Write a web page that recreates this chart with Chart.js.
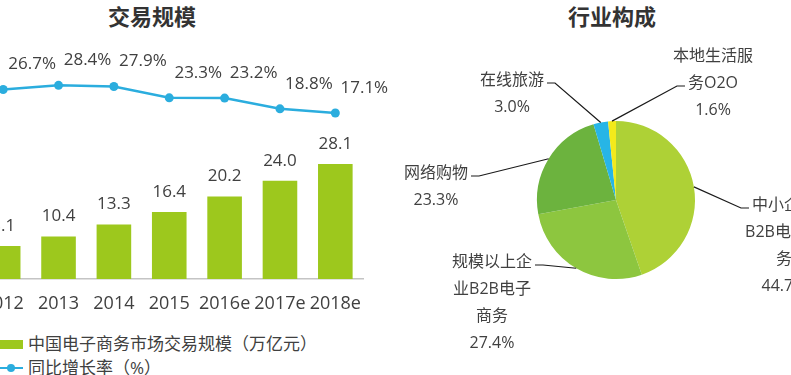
<!DOCTYPE html>
<html>
<head>
<meta charset="utf-8">
<script src="https://cdn.jsdelivr.net/npm/chart.js@4/dist/chart.umd.min.js"></script>
<style>
html,body{margin:0;padding:0;background:#fff;width:791px;height:375px;overflow:hidden;position:relative;font-family:"Open Sans","Noto Sans CJK SC",sans-serif;color:#404040;}
#leftWrap{position:absolute;left:-29px;top:0;width:430px;height:320px;}
#rightWrap{position:absolute;left:400px;top:0;width:391px;height:375px;}
.title{position:absolute;top:0;font-family:"Noto Sans CJK SC",sans-serif;font-size:22px;font-weight:bold;color:#333;line-height:30px;transform:translateX(-50%);white-space:nowrap;}
.leg{position:absolute;left:0;height:24px;white-space:nowrap;font-size:17px;line-height:24px;color:#404040;}
.leg .txt{position:absolute;left:28px;top:0;}
.box{position:absolute;left:0;top:8px;width:23px;height:9px;background:#9dc81d;}
.ln{position:absolute;left:0;top:11px;width:23px;height:2px;background:#2badde;}
.dot{position:absolute;left:7px;top:8px;width:8px;height:8px;border-radius:50%;background:#2badde;}
</style>
</head>
<body>
<div class="title" style="left:152px;">交易规模</div>
<div class="title" style="left:612px;">行业构成</div>
<div id="leftWrap"><canvas id="leftChart" width="430" height="320"></canvas></div>
<div id="rightWrap"><canvas id="rightChart" width="391" height="375"></canvas></div>
<div class="leg" style="top:332px;"><div class="box"></div><span class="txt" id="legBar"></span></div>
<div class="leg" style="top:356px;"><div class="ln"></div><div class="dot"></div><span class="txt" id="legLine"></span></div>
<script>
// ---- data ----
const years = ['2012', '2013', '2014', '2015', '2016e', '2017e', '2018e'];
const marketSize = [8.1, 10.4, 13.3, 16.4, 20.2, 24.0, 28.1];
const growthRate = [26.7, 28.4, 27.9, 23.3, 23.2, 18.8, 17.1];
const seriesNames = ['中国电子商务市场交易规模（万亿元）', '同比增长率（%）'];

const segmentNames = ['中小企业B2B电子商务', '规模以上企业B2B电子商务', '网络购物', '在线旅游', '本地生活服务O2O'];
const segmentShares = [44.7, 27.4, 23.3, 3.0, 1.6];
const segmentLabelLines = [['中小企业', 'B2B电子商', '务'], ['规模以上企', '业B2B电子', '商务'], ['网络购物'], ['在线旅游'], ['本地生活服', '务O2O']];

// ---- styles / layout ----
const FONT = '"Open Sans","Noto Sans CJK SC",sans-serif';
const TEXT = '#404040';
const BAR_COLOR = '#9dc81d';
const LINE_COLOR = '#2badde';
const PIE_COLORS = ['#aed136', '#8dc63f', '#6cb33e', '#27b5e6', '#f3ea1b'];
const pieLabelLayout = [
  {x: 384, y: 205, attach: 0, side: 'left'},
  {x: 92, y: 262, attach: 0, side: 'right'},
  {x: 36, y: 173, attach: 0, side: 'right'},
  {x: 112, y: 80, attach: 0, side: 'right'},
  {x: 313, y: 56, attach: 1, side: 'left'}
];
const PIE_LINE_STEP = 27;

document.getElementById('legBar').textContent = seriesNames[0];
document.getElementById('legLine').textContent = seriesNames[1];

const valueLabels = {
  id: 'valueLabels',
  afterDatasetsDraw(chart) {
    const ctx = chart.ctx;
    ctx.save();
    ctx.font = '17px ' + FONT;
    ctx.fillStyle = TEXT;
    ctx.textAlign = 'center';
    ctx.textBaseline = 'middle';
    chart.getDatasetMeta(0).data.forEach((bar, i) => {
      ctx.fillText(marketSize[i].toFixed(1), bar.x, bar.y - 20);
    });
    chart.getDatasetMeta(1).data.forEach((pt, i) => {
      ctx.fillText(growthRate[i].toFixed(1) + '%', pt.x + 29, pt.y - 25);
    });
    ctx.restore();
  }
};

new Chart(document.getElementById('leftChart'), {
  data: {
    labels: years,
    datasets: [
      {type: 'bar', label: seriesNames[0], data: marketSize, backgroundColor: BAR_COLOR, yAxisID: 'y',
       categoryPercentage: 1, barPercentage: 0.625, order: 2},
      {type: 'line', label: seriesNames[1], data: growthRate, borderColor: LINE_COLOR, borderWidth: 2.5,
       pointRadius: 4.5, pointBackgroundColor: LINE_COLOR, pointBorderWidth: 0, yAxisID: 'y1', order: 1, tension: 0}
    ]
  },
  options: {
    responsive: false,
    animation: false,
    layout: {padding: {top: 30, left: 0, right: 38, bottom: 0}},
    plugins: {legend: {display: false}, tooltip: {enabled: false}},
    scales: {
      x: {
        offset: true,
        grid: {display: false, drawTicks: false},
        border: {display: true, color: '#c4c4c4', width: 1.5},
        ticks: {color: TEXT, font: {size: 18, family: FONT}, padding: 14, maxRotation: 0, autoSkip: false},
        afterFit(s) { s.height = 41; s.paddingLeft = 0; s.paddingRight = 0; }
      },
      y: {display: false, min: 0, max: 60.9},
      y1: {display: false, min: -50.65, max: 50.98}
    }
  },
  plugins: [valueLabels]
});

const pieLabels = {
  id: 'pieLabels',
  afterDatasetsDraw(chart) {
    const ctx = chart.ctx;
    ctx.save();
    ctx.font = '16px ' + FONT;
    ctx.textAlign = 'center';
    ctx.textBaseline = 'middle';
    chart.getDatasetMeta(0).data.forEach((arc, i) => {
      const p = arc.getProps(['x', 'y', 'startAngle', 'endAngle', 'outerRadius'], true);
      const mid = (p.startAngle + p.endAngle) / 2;
      const ax = p.x + Math.cos(mid) * p.outerRadius;
      const ay = p.y + Math.sin(mid) * p.outerRadius;
      const L = pieLabelLayout[i];
      const lines = segmentLabelLines[i].concat([segmentShares[i].toFixed(1) + '%']);
      const w = ctx.measureText(lines[L.attach]).width;
      const ly = L.y + L.attach * PIE_LINE_STEP + 3;
      let tx, ex;
      if (L.side === 'left') { tx = L.x - w / 2 - 3; ex = tx - 8; }
      else { tx = L.x + w / 2 + 3; ex = tx + 8; }
      ctx.strokeStyle = '#1a1a1a';
      ctx.lineWidth = 1.2;
      ctx.beginPath();
      ctx.moveTo(ax, ay);
      ctx.lineTo(ex, ly);
      ctx.lineTo(tx, ly);
      ctx.stroke();
      ctx.fillStyle = TEXT;
      lines.forEach((t, k) => ctx.fillText(t, L.x, L.y + k * PIE_LINE_STEP));
    });
    ctx.restore();
  }
};

new Chart(document.getElementById('rightChart'), {
  type: 'pie',
  data: {
    labels: segmentNames,
    datasets: [{data: segmentShares, backgroundColor: PIE_COLORS, borderWidth: 0, hoverOffset: 0}]
  },
  options: {
    responsive: false,
    animation: false,
    layout: {padding: {left: 137, right: 96, top: 121, bottom: 96}},
    plugins: {legend: {display: false}, tooltip: {enabled: false}}
  },
  plugins: [pieLabels]
});
</script>
</body>
</html>
